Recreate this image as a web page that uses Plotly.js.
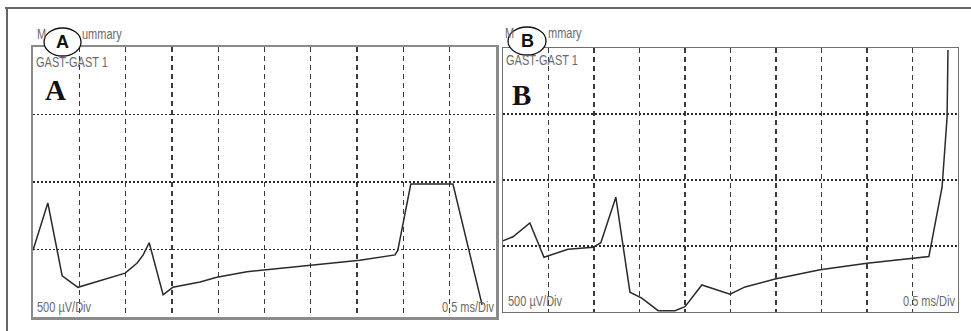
<!DOCTYPE html>
<html>
<head>
<meta charset="utf-8">
<script src="https://cdn.plot.ly/plotly-3.0.1.min.js"></script>
<style>
html,body{margin:0;padding:0;background:#fff;}
#chart{width:971px;height:331px;}
</style>
</head>
<body>
<div id="chart"></div>
<script>
// Panel A waveform (x in divisions, y in divisions)
const aX = [0, 0.32, 0.63, 0.97, 1.99, 2.25, 2.38, 2.51, 2.81, 3.02, 3.61, 3.97, 4.62, 6.03, 7.06, 7.82, 7.88, 8.16, 9.07, 9.70];
const aY = [0.99, 1.69, 0.61, 0.44, 0.65, 0.80, 0.92, 1.10, 0.33, 0.44, 0.52, 0.59, 0.67, 0.77, 0.84, 0.92, 0.99, 1.97, 1.97, 0.18];
// Panel B waveform
const bX = [0, 0.22, 0.59, 0.90, 1.43, 1.98, 2.15, 2.48, 2.79, 3.05, 3.41, 3.78, 4.0, 4.37, 4.99, 5.32, 5.98, 6.97, 8.0, 9.01, 9.36, 9.65, 9.76, 9.78];
const bY = [1.08, 1.14, 1.35, 0.83, 0.95, 0.98, 1.05, 1.74, 0.30, 0.21, 0.02, 0.02, 0.08, 0.41, 0.27, 0.38, 0.50, 0.64, 0.74, 0.82, 0.84, 1.89, 2.95, 3.97];
// Visible pieces of the panel title (partly hidden behind the circled letters)
const titleStart = "M";
const titleEndA = "ummary";
const titleEndB = "mmary";
const muscle = "GAST-GAST 1";
const ampLabel = "500 µV/Div";
const timeLabel = "0.5 ms/Div";

const W = 971, H = 331;
const px = v => v / W;
const py = v => 1 - v / H;

const lineStyle = {color: '#2a2a2a', width: 1.5};
const traces = [
  {x: aX, y: aY, mode: 'lines', line: lineStyle, xaxis: 'x', yaxis: 'y', hoverinfo: 'skip'},
  {x: bX, y: bY, mode: 'lines', line: lineStyle, xaxis: 'x2', yaxis: 'y2', hoverinfo: 'skip'}
];

function xax(domain, lc, lw) {
  return {domain: domain, range: [0, 10], dtick: 1, tick0: 0, showticklabels: false, ticks: '',
    showgrid: true, gridcolor: '#3a3a3a', gridwidth: 1.3, griddash: '5px,4px', zeroline: false,
    showline: true, mirror: true, linecolor: lc, linewidth: lw, fixedrange: true};
}
function yax(domain, lc, lw) {
  return {domain: domain, range: [0, 4], dtick: 1, tick0: 0, showticklabels: false, ticks: '',
    showgrid: true, gridcolor: '#2a2a2a', gridwidth: 1.5, griddash: '2px,2px', zeroline: false,
    showline: true, mirror: true, linecolor: lc, linewidth: lw, fixedrange: true};
}

const grayFont = {family: 'Liberation Sans, Arial', size: 11, color: '#6a6a6a'};
const stretched = [];
function g(text, x, y, anchor) {
  const a = {text: text, x: px(x), y: py(y), xanchor: anchor, yanchor: 'middle', font: grayFont};
  stretched.push(text);
  return a;
}
const annotations = [
  g(titleStart, 35, 34, 'left'),
  g(titleEndA, 80, 34, 'left'),
  g(titleStart, 503, 33, 'left'),
  g(titleEndB, 546, 33, 'left'),
  g(muscle, 34, 62, 'left'),
  g(muscle, 504, 60, 'left'),
  g(ampLabel, 35, 307, 'left'),
  g(ampLabel, 506, 301, 'left'),
  g(timeLabel, 496, 307, 'right'),
  g(timeLabel, 957, 301, 'right'),
  {text: '<b>A</b>', x: px(55), y: py(90), xanchor: 'center', yanchor: 'middle', font: {family: 'Liberation Serif, Times New Roman', size: 29, color: '#111'}},
  {text: '<b>B</b>', x: px(521), y: py(95), xanchor: 'center', yanchor: 'middle', font: {family: 'Liberation Serif, Times New Roman', size: 29, color: '#111'}},
  {text: '<b>A</b>', x: px(62), y: py(42), xanchor: 'center', yanchor: 'middle', font: {family: 'Liberation Sans, Arial', size: 18, color: '#111'}},
  {text: '<b>B</b>', x: px(527), y: py(41), xanchor: 'center', yanchor: 'middle', font: {family: 'Liberation Sans, Arial', size: 18, color: '#111'}}
].map(a => Object.assign({xref: 'paper', yref: 'paper', showarrow: false}, a));

const shapes = [
  {type: 'line', xref: 'paper', yref: 'paper', x0: px(5), x1: 1, y0: py(8), y1: py(8), line: {color: '#666', width: 2}},
  {type: 'line', xref: 'paper', yref: 'paper', x0: px(7), x1: px(7), y0: py(8), y1: 0, line: {color: '#666', width: 2}},
  {type: 'circle', xref: 'paper', yref: 'paper', x0: px(44), x1: px(81), y0: py(28), y1: py(56), fillcolor: '#fff', line: {color: '#111', width: 1.3}, layer: 'above'},
  {type: 'circle', xref: 'paper', yref: 'paper', x0: px(508), x1: px(546), y0: py(27), y1: py(55), fillcolor: '#fff', line: {color: '#111', width: 1.3}, layer: 'above'}
];

const layout = {
  width: W, height: H, margin: {l: 0, r: 0, t: 0, b: 0},
  paper_bgcolor: '#fff', plot_bgcolor: '#fff', showlegend: false,
  xaxis: Object.assign(xax([px(33), px(496)], '#8a8a8a', 2.5), {anchor: 'y'}),
  yaxis: Object.assign(yax([py(317), py(47)], '#8a8a8a', 2.5), {anchor: 'x'}),
  xaxis2: Object.assign(xax([px(503), px(958)], '#6f6f6f', 1.2), {anchor: 'y2'}),
  yaxis2: Object.assign(yax([py(312), py(48)], '#6f6f6f', 1.2), {anchor: 'x2'}),
  annotations: annotations, shapes: shapes
};

Plotly.newPlot('chart', traces, layout, {displayModeBar: false, staticPlot: true}).then(() => {
  // The instrument font is tall and condensed: stretch the gray labels vertically.
  document.querySelectorAll('#chart text.annotation-text').forEach(t => {
    if (stretched.includes(t.textContent)) {
      t.style.transformBox = 'fill-box';
      t.style.transformOrigin = 'center';
      t.style.transform = 'scaleY(1.3)';
    }
  });
});
</script>
</body>
</html>
